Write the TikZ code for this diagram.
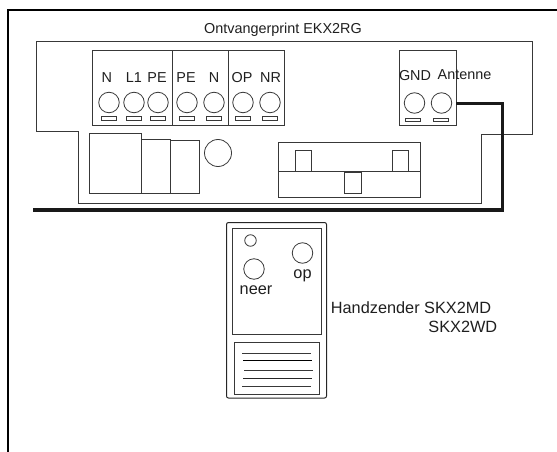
\documentclass[tikz,border=0pt]{standalone}
\usepackage{fontspec}
\setmainfont{Liberation Sans}
\definecolor{ln}{gray}{0.22}
\tikzset{
  part/.style={draw=ln,line width=0.9pt},
  term/.style={circle,draw=ln,line width=0.8pt,minimum size=20.5pt,inner sep=0pt},
  slot/.style={draw=ln,fill=white,line width=0.8pt,minimum width=15pt,minimum height=3.5pt,inner sep=0pt},
  lab/.style={font=\fontsize{14.4pt}{17pt}\selectfont,text=black!88,inner sep=0pt},
  labbig/.style={font=\fontsize{16.3pt}{19pt}\selectfont,text=black!88,inner sep=0pt},
  wire/.style={draw=black!90,line width=3.6pt},
}
\begin{document}
\begin{tikzpicture}[x=1pt,y=-1pt]
\useasboundingbox (0,0) rectangle (557,452);
% frame
\draw[black,line width=2.2pt] (8,452) -- (8,10) -- (557,10);
% board
\draw[part] (36,41) -- (532.7,41) -- (532.7,134.5) -- (481.3,134.5) -- (481.3,203.5) -- (78.5,203.5) -- (78.5,131) -- (36,131) -- cycle;
\node[lab,anchor=base] at (283,34) {Ontvangerprint EKX2RG};
% terminal blocks
\draw[part] (92,50) rectangle (172.5,125);
\draw[part] (172.5,50) rectangle (228.5,125);
\draw[part] (228.5,50) rectangle (284.3,125);
\draw[part] (399.3,50.5) rectangle (456.3,125.5);
\foreach \n/\x/\lx/\t in {a/109/106.7/N,b/134/134/L1,c/158/157/PE,d/187/186/PE,e/214/214/N,f/243/242/OP,g/270/270.5/NR}{
  \node[term] (t\n) at (\x,102.5) {};
  \node[slot] (s\n) at (\x,118.5) {};
  \node[lab,anchor=base] (l\n) at (\lx,82) {\t};
}
\node[term] (tgnd) at (414.5,103) {};
\node[slot] (sgnd) at (412.5,120) {};
\node[lab,anchor=base] (lgnd) at (415,80.7) {GND};
\node[term] (tant) at (441.5,103) {};
\node[slot] (sant) at (440.5,120) {};
\node[lab,anchor=base] (lant) at (464.5,80) {Antenne};
% lower components
\draw[part] (89.5,133.5) rectangle (141,193.5);
\draw[part] (141,139.5) rectangle (170,193.5);
\draw[part] (170,140) rectangle (199,193.5);
\node[circle,draw=ln,line width=0.8pt,minimum size=27pt,inner sep=0pt] (relay) at (218,153) {};
\draw[part] (278.7,142) rectangle (420.7,197);
\draw[part] (278.7,171) -- (420.7,171);
\draw[part] (295.5,150) rectangle (311.5,171);
\draw[part] (392,150) rectangle (408.5,171);
\draw[part] (344.5,172.5) rectangle (361,193.5);
% wire
\coordinate (wireend) at (33,210);
\coordinate (wirestart) at (456.3,103.5);
\draw[wire,line join=miter] (wirestart) -- (502.5,103.5) -- (502.5,210) -- (wireend);
% handset
\draw[black!85,line width=1pt,rounded corners=2pt] (226.5,222.5) rectangle (326.5,398);
\draw[part] (232.5,228) rectangle (321,334);
\draw[part] (234.5,342) rectangle (319.5,394);
\draw[part] (242,353) -- (311,353);
\draw[black,line width=0.8pt] (243,360.5) -- (312,360.5);
\draw[part] (244,370) -- (313,370);
\draw[black!85,line width=0.8pt] (243,378) -- (312,378);
\draw[part] (242,386) -- (311,386);
\node[circle,draw=ln,line width=0.8pt,minimum size=11.5pt,inner sep=0pt] (led) at (250.5,240.5) {};
\node[term] (bneer) at (254,269) {};
\node[term] (bop) at (302.5,253) {};
\node[labbig,anchor=base] (lneer) at (256,294) {neer};
\node[labbig,anchor=base] (lop) at (302.5,278) {op};
\node[labbig,anchor=base west] (hz) at (330.7,313.3) {Handzender SKX2MD};
\node[labbig,anchor=base west] (hz2) at (428.2,332.3) {SKX2WD};
\end{tikzpicture}
\end{document}
